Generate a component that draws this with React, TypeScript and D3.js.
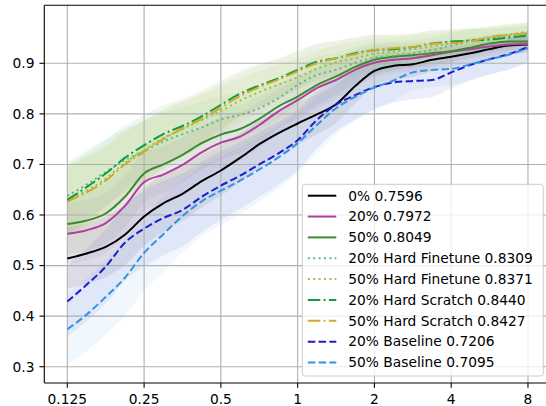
import React from "react";
import * as d3 from "d3";

const xValues = [0.125, 0.1487, 0.1768, 0.2102, 0.25, 0.2973, 0.3536, 0.4204, 0.5, 0.5946, 0.7071, 0.8409, 1, 1.189, 1.414, 1.682, 2, 2.378, 2.828, 3.364, 4, 4.757, 5.657, 6.727, 8];

const s0 = [0.514, 0.524, 0.537, 0.561, 0.597, 0.623, 0.642, 0.667, 0.688, 0.713, 0.740, 0.762, 0.781, 0.799, 0.819, 0.855, 0.885, 0.895, 0.898, 0.907, 0.913, 0.920, 0.928, 0.935, 0.937];
const s20 = [0.563, 0.570, 0.584, 0.618, 0.665, 0.680, 0.699, 0.724, 0.743, 0.755, 0.778, 0.805, 0.827, 0.851, 0.867, 0.887, 0.901, 0.907, 0.910, 0.916, 0.923, 0.928, 0.933, 0.937, 0.938];
const s50 = [0.582, 0.589, 0.603, 0.636, 0.682, 0.700, 0.719, 0.742, 0.759, 0.770, 0.790, 0.815, 0.834, 0.857, 0.874, 0.893, 0.907, 0.913, 0.916, 0.920, 0.924, 0.931, 0.939, 0.943, 0.943];
const hf20 = [0.638, 0.660, 0.685, 0.708, 0.727, 0.745, 0.760, 0.773, 0.789, 0.798, 0.811, 0.831, 0.857, 0.877, 0.887, 0.901, 0.911, 0.915, 0.920, 0.926, 0.935, 0.943, 0.949, 0.955, 0.959];
const hf50 = [0.628, 0.648, 0.672, 0.703, 0.728, 0.752, 0.770, 0.788, 0.806, 0.826, 0.843, 0.858, 0.872, 0.889, 0.902, 0.910, 0.919, 0.923, 0.928, 0.933, 0.939, 0.946, 0.951, 0.957, 0.962];
const hs20 = [0.630, 0.655, 0.682, 0.713, 0.738, 0.760, 0.776, 0.795, 0.818, 0.840, 0.856, 0.870, 0.887, 0.903, 0.910, 0.920, 0.926, 0.928, 0.932, 0.939, 0.943, 0.945, 0.947, 0.951, 0.955];
const hs50 = [0.626, 0.645, 0.668, 0.700, 0.725, 0.750, 0.771, 0.790, 0.812, 0.835, 0.853, 0.868, 0.884, 0.900, 0.910, 0.918, 0.926, 0.930, 0.932, 0.939, 0.940, 0.943, 0.952, 0.956, 0.960];
const b20 = [0.429, 0.462, 0.498, 0.545, 0.573, 0.594, 0.610, 0.636, 0.658, 0.678, 0.700, 0.722, 0.748, 0.788, 0.818, 0.837, 0.853, 0.862, 0.865, 0.867, 0.882, 0.897, 0.908, 0.918, 0.932];
const b50 = [0.374, 0.403, 0.438, 0.476, 0.525, 0.562, 0.598, 0.627, 0.648, 0.668, 0.690, 0.714, 0.742, 0.778, 0.811, 0.834, 0.852, 0.866, 0.882, 0.887, 0.889, 0.898, 0.908, 0.917, 0.930];

const stdMain = [0.06, 0.06, 0.06, 0.06, 0.058, 0.056, 0.054, 0.052, 0.05, 0.048, 0.046, 0.044, 0.042, 0.04, 0.037, 0.034, 0.03, 0.027, 0.025, 0.023, 0.021, 0.019, 0.018, 0.017, 0.016];
const stdHard = [0.07, 0.068, 0.066, 0.063, 0.06, 0.057, 0.054, 0.051, 0.048, 0.045, 0.042, 0.04, 0.038, 0.036, 0.034, 0.032, 0.03, 0.028, 0.027, 0.026, 0.025, 0.024, 0.022, 0.021, 0.02];
const stdBase = [0.07, 0.072, 0.074, 0.075, 0.075, 0.074, 0.072, 0.07, 0.068, 0.066, 0.064, 0.062, 0.06, 0.056, 0.052, 0.048, 0.044, 0.04, 0.036, 0.034, 0.032, 0.031, 0.03, 0.03, 0.03];

const xTicks = [0.125, 0.25, 0.5, 1, 2, 4, 8];
const xTickLabels = ["0.125", "0.25", "0.5", "1", "2", "4", "8"];
const yTicks = [0.3, 0.4, 0.5, 0.6, 0.7, 0.8, 0.9];

const seriesNames = [
  "0% 0.7596",
  "20% 0.7972",
  "50% 0.8049",
  "20% Hard Finetune 0.8309",
  "50% Hard Finetune 0.8371",
  "20% Hard Scratch 0.8440",
  "50% Hard Scratch 0.8427",
  "20% Baseline 0.7206",
  "50% Baseline 0.7095",
];
const seriesValues = [s0, s20, s50, hf20, hf50, hs20, hs50, b20, b50];
const seriesStd = [stdMain, stdMain, stdMain, stdHard, stdHard, stdHard, stdHard, stdBase, stdBase];
const seriesColors = ["#000000", "#b13fa1", "#3a8a2e", "#5fb87c", "#8fc63a", "#159a3c", "#d3a82e", "#1c1cd0", "#3592e0"];
const seriesDash = ["", "", "", "2,3.4", "2,3.4", "12.5,3.3,2,3.3", "12.5,3.3,2,3.3", "7.5,3.3", "7.5,3.3"];

const W = 546;
const H = 406;
const left = 44.3;
const top = 5.3;
const bottom = 383;
const right = 551;

export default function App() {
  const x = d3.scaleLog().base(2).domain([Math.pow(2, -3.3), Math.pow(2, 3.3)]).range([left, right]);
  const y = d3.scaleLinear().domain([0.2678, 1.0147]).range([bottom, top]);
  const font = "'DejaVu Sans', sans-serif";
  const fs = 13.8;

  const lineGen = (vals: number[]) =>
    d3
      .line<number>()
      .x((_, i) => x(xValues[i]))
      .y((v) => y(v))
      .curve(d3.curveMonotoneX)(vals) || "";

  const areaGen = (vals: number[], sd: number[]) =>
    d3
      .area<number>()
      .x((_, i) => x(xValues[i]))
      .y0((v, i) => y(v - sd[i]))
      .y1((v, i) => y(v + sd[i]))
      .curve(d3.curveMonotoneX)(vals) || "";

  const legX = 302.3;
  const legY = 184.3;
  const legW = 241;
  const legH = 191.7;
  const rowH = 20.85;

  return (
    <svg width={W} height={H} style={{ position: "absolute", left: 0, top: 0, background: "#fff" }}>
      <defs>
        <clipPath id="plotclip">
          <rect x={left} y={top} width={right - left} height={bottom - top} />
        </clipPath>
      </defs>
      <g clipPath="url(#plotclip)">
        {seriesValues.map((vals, k) => (
          <path key={"a" + k} d={areaGen(vals, seriesStd[k])} fill={seriesColors[k]} fillOpacity={0.075} stroke="none" />
        ))}
      </g>
      {xTicks.map((t) => (
        <line key={"gx" + t} x1={x(t)} x2={x(t)} y1={top} y2={bottom} stroke="#b0b0b0" strokeWidth={1.1} />
      ))}
      {yTicks.map((t) => (
        <line key={"gy" + t} x1={left} x2={right} y1={y(t)} y2={y(t)} stroke="#b0b0b0" strokeWidth={1.1} />
      ))}
      <g clipPath="url(#plotclip)">
        {seriesValues.map((vals, k) => (
          <path
            key={"l" + k}
            d={lineGen(vals)}
            fill="none"
            stroke={seriesColors[k]}
            strokeWidth={2}
            strokeDasharray={seriesDash[k] || undefined}
            strokeLinecap="butt"
            strokeLinejoin="round"
          />
        ))}
      </g>
      <line x1={left} x2={left} y1={top} y2={bottom} stroke="#000" strokeWidth={1.1} />
      <line x1={left} x2={right} y1={bottom} y2={bottom} stroke="#000" strokeWidth={1.1} />
      <line x1={left} x2={right} y1={top} y2={top} stroke="#000" strokeWidth={1.1} />
      {xTicks.map((t, i) => (
        <g key={"tx" + t}>
          <line x1={x(t)} x2={x(t)} y1={bottom} y2={bottom + 4.8} stroke="#000" strokeWidth={1.1} />
          <text x={x(t)} y={bottom + 16} dy="0.35em" textAnchor="middle" fontFamily={font} fontSize={fs} fill="#000">
            {xTickLabels[i]}
          </text>
        </g>
      ))}
      {yTicks.map((t) => (
        <g key={"ty" + t}>
          <line x1={left - 4.8} x2={left} y1={y(t)} y2={y(t)} stroke="#000" strokeWidth={1.1} />
          <text x={left - 9.8} y={y(t)} dy="0.35em" textAnchor="end" fontFamily={font} fontSize={fs} fill="#000">
            {d3.format(".1f")(t)}
          </text>
        </g>
      ))}
      <g>
        <rect x={legX} y={legY} width={legW} height={legH} rx={3} fill="#fff" fillOpacity={0.8} stroke="#cccccc" strokeWidth={1} />
        {seriesNames.map((name, k) => {
          const cy = legY + 11.4 + k * rowH;
          return (
            <g key={"lg" + k}>
              <line
                x1={legX + 5.5}
                x2={legX + 34}
                y1={cy}
                y2={cy}
                stroke={seriesColors[k]}
                strokeWidth={2}
                strokeDasharray={seriesDash[k] || undefined}
              />
              <text x={legX + 46} y={cy} dy="0.35em" fontFamily={font} fontSize={fs} fill="#000">
                {name}
              </text>
            </g>
          );
        })}
      </g>
    </svg>
  );
}
